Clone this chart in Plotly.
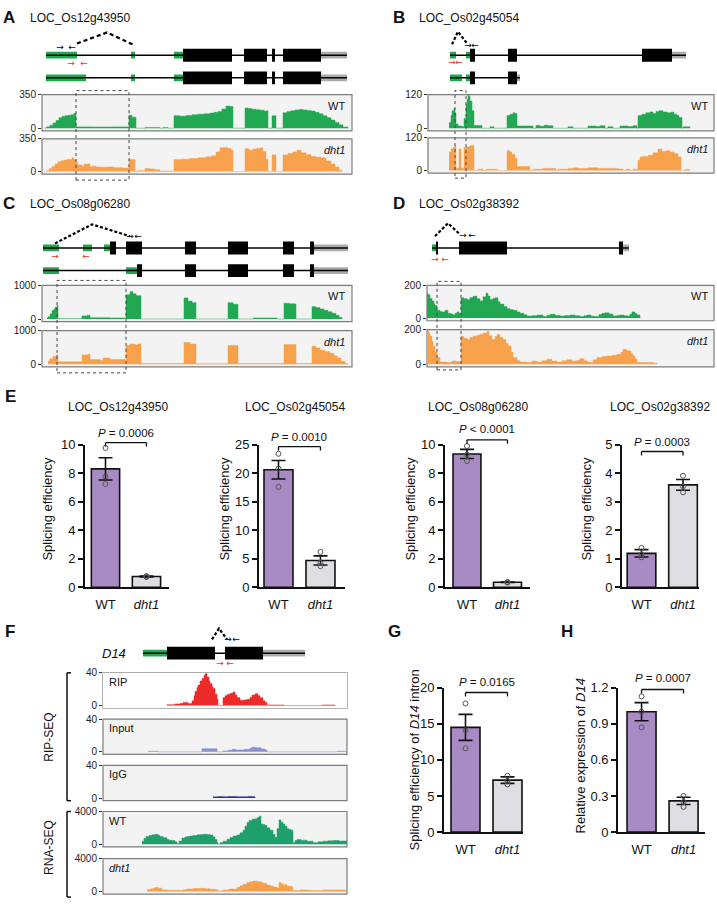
import plotly.graph_objects as go

W, H = 717, 909
FONT = "Liberation Sans, Arial, Helvetica, sans-serif"

# ---------------- gene models (track units; g=5'UTR, k=CDS, s=3'UTR) ----------------
A_ISO = [
    [(4, 35, 'g'), (89, 93, 'g'), (132, 141, 'g'), (141, 190, 'k'), (202, 225, 'k'), (230, 233, 'k'), (241, 279, 'k'), (279, 305, 's')],
    [(4, 44, 'g'), (89, 93, 'g'), (132, 141, 'g'), (141, 190, 'k'), (202, 225, 'k'), (230, 233, 'k'), (241, 279, 'k'), (279, 305, 's')],
]
B_ISO = [
    [(22, 28, 'g'), (38, 42, 'g'), (42, 47, 'k'), (80, 89, 'k'), (214, 244, 'k'), (244, 258, 's')],
    [(22, 34, 'g'), (38, 42, 'g'), (42, 47, 'k'), (80, 89, 'k'), (89, 92, 's')],
]
C_ISO = [
    [(1, 17, 'g'), (41, 50, 'g'), (62, 68, 'g'), (68, 74, 'k'), (84, 100, 'k'), (143, 154, 'k'), (186, 206, 'k'), (241, 252, 'k'), (268, 272, 'k'), (272, 306, 's')],
    [(1, 17, 'g'), (84, 95, 'g'), (95, 100, 'k'), (143, 154, 'k'), (186, 206, 'k'), (241, 252, 'k'), (268, 272, 'k'), (272, 306, 's')],
]
D_ISO = [[(5, 9, 'g'), (9, 11, 'k'), (32, 80, 'k'), (192, 196, 'k'), (196, 202, 's')]]
D14_ISO = [[(40, 64, 'g'), (64, 112, 'k'), (122, 160, 'k'), (160, 202, 's')]]

# splice arcs (position, height) and primer positions
A_ARC = [(35, 0.52), (65, 1.0), (93, 0.43)]
B_ARC = [(24, 0.48), (30, 1.04), (39, 0.52)]
C_ARC = [(13, 0.2), (50, 1.04), (88, 0.52)]
D_ARC = [(8, 0.52), (21, 1.09), (33, 0.6)]
F_ARC = [(109, 0.61), (116, 1.09), (124, 0.61)]
A_PRIM = ([18, 30], 0.35, [29, 42], -0.39)
B_PRIM = ([40, 47], 0.43, [24, 31], -0.35)
C_PRIM = ([88, 96], 0.48, [13, 44], -0.39)
D_PRIM = ([36, 45], 0.52, [8, 18], -0.52)
F_PRIM = ([125, 133], 0.57, [117, 127], -0.48)

# highlighted intron regions
A_HL = (34, 87)
B_HL = (27, 38)
C_HL = (15, 84)
D_HL = (10, 34)

# ---------------- coverage (position, reads) ----------------
A_WT = [(3, 5), (5, 15), (8, 30), (11, 55), (14, 80), (17, 110), (20, 125), (23, 130), (26, 135), (29, 140), (32, 155), (34, 14), (50, 12), (70, 14), (87, 135), (90, 115), (94, 0), (103, 8), (118, 0), (121, 7), (126, 0), (132, 130), (138, 125), (144, 132), (150, 140), (156, 146), (162, 150), (168, 158), (172, 165), (176, 175), (180, 200), (184, 230), (188, 225), (191, 0), (203, 210), (206, 205), (210, 198), (214, 192), (218, 188), (222, 180), (226, 0), (230, 130), (234, 0), (241, 160), (245, 175), (249, 182), (253, 190), (257, 195), (261, 190), (265, 185), (269, 178), (273, 165), (277, 150), (281, 130), (285, 110), (289, 85), (293, 60), (297, 35), (301, 12), (306, 0)]
A_DHT1 = [(4, 10), (7, 30), (10, 55), (13, 80), (16, 105), (19, 115), (22, 123), (25, 128), (28, 130), (30, 146), (32, 125), (34, 95), (36, 70), (40, 58), (42, 81), (48, 49), (50, 58), (54, 50), (58, 45), (62, 47), (66, 49), (72, 42), (80, 39), (87, 130), (93, 0), (95, 10), (103, 32), (108, 28), (113, 20), (118, 6), (132, 130), (140, 132), (148, 140), (156, 148), (164, 158), (170, 168), (174, 210), (178, 255), (182, 258), (186, 245), (189, 230), (191, 0), (203, 243), (207, 228), (211, 240), (215, 250), (218, 253), (221, 215), (224, 130), (226, 0), (230, 178), (234, 0), (241, 178), (246, 195), (251, 210), (255, 227), (259, 200), (264, 180), (269, 162), (274, 155), (279, 146), (284, 113), (289, 80), (293, 50), (297, 15), (300, 0)]
B_WT = [(21, 20), (23, 45), (24, 62), (26, 70), (27, 55), (28, 15), (30, 8), (34, 5), (36, 35), (38, 85), (39, 102), (40, 120), (41, 114), (42, 97), (44, 62), (46, 10), (54, 0), (62, 5), (66, 0), (79, 45), (82, 50), (85, 55), (87, 52), (89, 8), (105, 0), (108, 10), (112, 7), (116, 11), (120, 9), (125, 0), (140, 5), (145, 0), (160, 8), (168, 6), (172, 9), (177, 0), (180, 5), (185, 0), (192, 8), (200, 6), (205, 9), (209, 0), (210, 45), (214, 50), (218, 55), (222, 58), (225, 52), (228, 60), (231, 62), (235, 58), (239, 55), (243, 57), (246, 50), (249, 45), (251, 38), (254, 0), (255, 5), (262, 0)]
B_DHT1 = [(21, 68), (23, 80), (25, 85), (27, 91), (28, 9), (31, 79), (33, 9), (36, 85), (39, 87), (42, 91), (46, 0), (50, 5), (55, 0), (58, 5), (69, 0), (79, 73), (82, 68), (84, 60), (87, 44), (89, 15), (102, 0), (105, 5), (115, 8), (125, 8), (128, 0), (130, 5), (140, 8), (145, 10), (150, 8), (160, 10), (170, 8), (180, 8), (190, 6), (195, 0), (198, 5), (202, 0), (205, 5), (210, 38), (212, 50), (215, 52), (220, 56), (225, 65), (230, 79), (234, 70), (238, 73), (242, 68), (246, 62), (250, 50), (253, 0), (257, 4), (262, 0)]
C_WT = [(5, 30), (6, 65), (8, 150), (10, 252), (12, 300), (13, 346), (15, 411), (16, 10), (38, 10), (40, 93), (45, 112), (48, 37), (68, 30), (80, 30), (84, 720), (88, 813), (91, 748), (94, 700), (96, 692), (99, 0), (142, 626), (146, 533), (150, 486), (154, 0), (186, 486), (191, 440), (196, 0), (211, 30), (235, 0), (242, 468), (247, 450), (253, 440), (254, 0), (270, 365), (274, 340), (278, 300), (282, 260), (286, 215), (290, 170), (294, 112), (297, 50), (300, 0)]
C_DHT1 = [(6, 100), (8, 167), (11, 230), (14, 278), (16, 74), (38, 74), (40, 278), (46, 296), (48, 139), (58, 111), (61, 185), (68, 139), (83, 74), (84, 556), (88, 602), (93, 574), (96, 602), (99, 20), (142, 648), (148, 602), (154, 15), (186, 556), (196, 20), (242, 583), (254, 20), (270, 537), (274, 480), (278, 417), (283, 370), (288, 324), (292, 250), (295, 185), (299, 90), (303, 19), (306, 0)]
D_WT = [(0, 152), (1, 143), (3, 120), (5, 105), (7, 85), (8, 76), (10, 48), (13, 40), (15, 38), (18, 48), (21, 29), (24, 25), (26, 19), (28, 30), (30, 38), (32, 29), (34, 124), (37, 118), (40, 114), (43, 125), (46, 133), (50, 118), (53, 105), (56, 130), (59, 152), (61, 135), (63, 114), (66, 120), (68, 124), (71, 100), (73, 86), (77, 70), (80, 57), (83, 52), (86, 48), (90, 38), (93, 29), (97, 20), (100, 13), (105, 15), (110, 19), (116, 10), (120, 18), (123, 23), (128, 17), (133, 13), (138, 16), (143, 19), (148, 14), (153, 10), (157, 15), (160, 19), (164, 12), (168, 10), (172, 22), (175, 29), (178, 32), (182, 25), (186, 13), (190, 16), (193, 19), (197, 15), (200, 13), (203, 25), (205, 38), (208, 28), (210, 19), (213, 0)]
D_DHT1 = [(0, 190), (2, 175), (3, 162), (5, 130), (6, 105), (8, 70), (10, 38), (13, 13), (16, 12), (20, 10), (24, 15), (26, 19), (29, 15), (33, 13), (34, 162), (37, 150), (40, 143), (43, 155), (46, 162), (50, 168), (53, 171), (56, 180), (60, 190), (62, 165), (65, 143), (68, 160), (70, 171), (73, 155), (76, 143), (79, 120), (81, 105), (84, 70), (86, 38), (90, 20), (93, 13), (100, 10), (105, 18), (110, 12), (115, 20), (120, 29), (125, 18), (130, 12), (135, 20), (140, 25), (145, 18), (150, 22), (153, 32), (157, 20), (160, 12), (163, 10), (166, 25), (170, 38), (175, 45), (180, 48), (185, 52), (190, 57), (194, 70), (196, 86), (199, 80), (201, 76), (204, 60), (206, 48), (208, 30), (210, 10), (226, 6), (230, 0)]
F_RIP = [(64, 1.2), (72, 2), (77, 2.7), (80, 3.9), (85, 2.7), (89, 5.8), (91, 12), (92, 17.5), (94, 22), (95, 25), (97, 30), (99, 33), (101, 37), (102, 38.8), (104, 35), (106, 30), (107, 27), (109, 23), (110, 21), (112, 14), (114, 7.8), (115, 0), (120, 9.7), (122, 12), (124, 13.6), (127, 15), (130, 16.7), (132, 13), (134, 9.7), (137, 6.6), (141, 7), (144, 7.8), (147, 10), (149, 12.8), (152, 14.4), (155, 12), (157, 9.7), (160, 6), (162, 3.9), (164, 0.8), (181, 0), (219, 0.8), (232, 0)]
F_INPUT = [(45, 0.75), (55, 0), (99, 3.8), (114, 0), (120, 1.1), (125, 2), (129, 3), (133, 2.3), (137, 2.3), (141, 3), (144, 3), (147, 4.5), (149, 5.7), (152, 5.2), (154, 4.9), (158, 3.5), (162, 2.3), (164, 0), (234, 0.8), (244, 0)]
F_IGG = [(110, 1.5), (115, 1.8), (120, 1.5), (125, 2), (130, 2), (134, 1.6), (140, 1.7), (145, 2), (150, 1.6), (152, 0)]
F_WT = [(39, 381), (41, 700), (43, 950), (46, 1067), (49, 1150), (52, 1219), (55, 1100), (57, 952), (60, 800), (64, 571), (66, 500), (69, 457), (72, 300), (74, 76), (76, 400), (79, 762), (82, 900), (84, 952), (87, 1000), (90, 1067), (94, 1150), (97, 1180), (100, 1219), (104, 1180), (107, 1143), (110, 900), (112, 571), (114, 200), (115, 0), (117, 200), (120, 381), (124, 600), (127, 838), (130, 1000), (134, 1143), (137, 1400), (140, 1714), (142, 2200), (144, 2667), (146, 2900), (149, 3048), (151, 3100), (154, 3238), (156, 3429), (158, 2476), (160, 2400), (162, 2286), (164, 2000), (167, 1714), (170, 1200), (172, 838), (174, 1905), (176, 2972), (178, 2700), (180, 2476), (182, 2200), (184, 1905), (186, 1800), (188, 1714), (190, 190), (192, 450), (194, 571), (198, 500), (204, 381), (210, 190), (215, 300), (220, 381), (225, 420), (230, 457), (236, 400), (244, 381)]
F_DHT1 = [(44, 200), (47, 310), (50, 420), (52, 504), (55, 400), (59, 194), (65, 150), (77, 116), (80, 200), (84, 310), (90, 350), (97, 388), (102, 330), (107, 272), (112, 200), (115, 0), (117, 100), (120, 194), (126, 300), (134, 504), (137, 700), (140, 892), (144, 1086), (147, 1200), (150, 1280), (153, 1250), (155, 1203), (158, 1100), (160, 970), (164, 800), (167, 698), (170, 550), (174, 427), (176, 1086), (178, 950), (180, 815), (184, 650), (189, 504), (190, 116), (197, 194), (205, 150), (210, 116), (220, 194), (232, 194), (244, 194)]

# ---------------- bar chart data ----------------
E_GENES = ['LOC_Os12g43950', 'LOC_Os02g45054', 'LOC_Os08g06280', 'LOC_Os02g38392']
E_WT_MEAN = [8.3, 20.6, 9.35, 1.19]
E_WT_SEM = [0.78, 1.63, 0.32, 0.13]
E_DHT1_MEAN = [0.75, 4.7, 0.35, 3.59]
E_DHT1_SEM = [0.03, 0.8, 0.02, 0.19]
E_WT_PTS = [[9.77, 7.75, 7.24], [23.4, 20.8, 17.6], [9.9, 9.3, 8.85], [1.38, 1.15, 1.05]]
E_DHT1_PTS = [[0.78, 0.75, 0.72], [6.2, 4.3, 3.7], [0.37, 0.35, 0.33], [3.91, 3.54, 3.33]]
E_P = ['= 0.0006', '= 0.0010', '< 0.0001', '= 0.0003']
E_YMAX = [10, 25, 10, 5]
E_DTICK = [2, 5, 2, 1]

G_WT_MEAN, G_WT_SEM, G_WT_PTS = 14.5, 1.8, [17.8, 14.1, 11.6]
G_DHT1_MEAN, G_DHT1_SEM, G_DHT1_PTS = 7.2, 0.45, [7.8, 7.1, 6.6]
G_P = '= 0.0165'
H_WT_MEAN, H_WT_SEM, H_WT_PTS = 1.0, 0.075, [1.127, 1.0, 0.87]
H_DHT1_MEAN, H_DHT1_SEM, H_DHT1_PTS = 0.26, 0.03, [0.30, 0.25, 0.21]
H_P = '= 0.0007'
H_TICKS = ['0', '0.3', '0.6', '0.9', '1.2']

# ---------------- styles ----------------
GREEN = '#22a852'
ORANGE = '#f7a14d'
UTR5 = '#23a650'
UTR3 = '#ababab'
PURPLE = '#a88bc4'
GREYBAR = '#dedde2'
TRACK_BG = '#f4f3f4'
TRACK_LINE = '#7d7d7d'
EXON_C = {'g': UTR5, 'k': '#000000', 's': UTR3}
EXON_H = {'g': 0.3, 'k': 0.57, 's': 0.3}

fig = go.Figure()
L = {}
shapes = []
annos = []
n_ax = [0]


def add_axes(x0, x1, y0, y1, xr, yr, xkw=None, ykw=None):
    n_ax[0] += 1
    n = n_ax[0]
    s = '' if n == 1 else str(n)
    xa = dict(domain=[x0 / W, x1 / W], range=xr, anchor='y' + s, showgrid=False,
              zeroline=False, visible=False, fixedrange=True)
    ya = dict(domain=[1 - y1 / H, 1 - y0 / H], range=yr, anchor='x' + s, showgrid=False,
              zeroline=False, visible=False, fixedrange=True)
    if xkw:
        xa.update(xkw)
    if ykw:
        ya.update(ykw)
    L['xaxis' + s] = xa
    L['yaxis' + s] = ya
    return 'x' + s, 'y' + s


def ann(x, y, text, size=12, xanchor='center', yanchor='middle', angle=0, color='#111'):
    annos.append(dict(xref='paper', yref='paper', x=x / W, y=1 - y / H, text=text,
                      showarrow=False, xanchor=xanchor, yanchor=yanchor, textangle=angle,
                      font=dict(size=size, color=color, family=FONT)))


def gene_model(bx0, bx1, row_y, isoforms, arc, prim, dash):
    w = bx1 - bx0
    xa, ya = add_axes(bx0, bx1, row_y - 35, row_y + 35, [0, w], [-1.52, 1.52])
    for i, iso in enumerate(isoforms):
        row = -i
        lo = min(e[0] for e in iso)
        hi = max(e[1] for e in iso)
        fig.add_trace(go.Scatter(x=[lo, hi], y=[row, row], mode='lines',
                                 line=dict(color='#000', width=1.5), xaxis=xa, yaxis=ya,
                                 hoverinfo='skip', showlegend=False))
        for kind in 'gsk':
            ex = [e for e in iso if e[2] == kind]
            if not ex:
                continue
            fig.add_trace(go.Bar(orientation='h', base=[e[0] for e in ex],
                                 x=[e[1] - e[0] for e in ex], y=[row] * len(ex),
                                 width=[EXON_H[kind]] * len(ex),
                                 marker=dict(color=EXON_C[kind], line=dict(width=0)),
                                 xaxis=xa, yaxis=ya, showlegend=False, hoverinfo='skip'))
    fig.add_trace(go.Scatter(x=[p[0] for p in arc], y=[p[1] for p in arc], mode='lines',
                             line=dict(color='#000', width=2.2, dash=dash), xaxis=xa, yaxis=ya,
                             hoverinfo='skip', showlegend=False))
    bpos, by, rpos, ry = prim
    fig.add_trace(go.Scatter(x=bpos, y=[by] * 2, mode='text', text=['→', '←'],
                             textfont=dict(size=9, color='#000', family='DejaVu Sans'),
                             xaxis=xa, yaxis=ya, hoverinfo='skip', showlegend=False, cliponaxis=False))
    fig.add_trace(go.Scatter(x=rpos, y=[ry] * 2, mode='text', text=['→', '←'],
                             textfont=dict(size=9, color='#e8312b', family='DejaVu Sans'),
                             xaxis=xa, yaxis=ya, hoverinfo='skip', showlegend=False, cliponaxis=False))
    return xa, ya


def track(bx0, bx1, ty0, ty1, data, color, ymax, ticktxt, label, label_left=False):
    w = bx1 - bx0
    xa, ya = add_axes(bx0, bx1, ty0, ty1, [0, w], [-0.08 * ymax, ymax],
                      ykw=dict(visible=True, showline=False, ticks='outside', ticklen=3,
                               tickwidth=1, tickcolor='#333', tickvals=[0, ymax],
                               ticktext=['0', ticktxt],
                               tickfont=dict(size=10, color='#222', family=FONT)))
    shapes.append(dict(type='rect', xref=xa + ' domain', yref=ya + ' domain', x0=0, x1=1,
                       y0=0, y1=1, fillcolor=TRACK_BG, line=dict(color=TRACK_LINE, width=1.2),
                       layer='below'))
    fig.add_trace(go.Scatter(x=[p[0] for p in data], y=[p[1] for p in data], mode='lines',
                             line=dict(shape='hv', width=0.5, color=color), fill='tozeroy',
                             fillcolor=color, xaxis=xa, yaxis=ya, hoverinfo='skip',
                             showlegend=False))
    if label_left:
        annos.append(dict(xref=xa + ' domain', yref=ya + ' domain', x=0.015, y=1, yshift=-1,
                          xanchor='left', yanchor='top', text=label, showarrow=False,
                          font=dict(size=11, color='#111', family=FONT)))
    else:
        annos.append(dict(xref=xa + ' domain', yref=ya + ' domain', x=0.985, y=1, yshift=-3,
                          xanchor='right', yanchor='top', text=label, showarrow=False,
                          font=dict(size=11, color='#111', family=FONT)))
    return xa, ya


def cov_panel(letter, lx, title, tx, ty, bx0, bx1, row_y, iso, arc, prim, dash,
              tracks_y, wt, dht1, ymax, tick, hl, hl_y):
    ann(lx, ty, '<b>%s</b>' % letter, size=17, xanchor='left')
    ann(tx, ty, title, size=12, xanchor='left')
    xa, ya = gene_model(bx0, bx1, row_y, iso, arc, prim, dash)
    track(bx0, bx1, tracks_y[0][0], tracks_y[0][1], wt, GREEN, ymax, tick, 'WT')
    track(bx0, bx1, tracks_y[1][0], tracks_y[1][1], dht1, ORANGE, ymax, tick, '<i>dht1</i>')
    w = bx1 - bx0
    shapes.append(dict(type='rect', xref=xa + ' domain', yref='paper', x0=hl[0] / w, x1=hl[1] / w,
                       y0=1 - hl_y[1] / H, y1=1 - hl_y[0] / H,
                       line=dict(color='#444', width=1, dash='dot'), fillcolor='rgba(0,0,0,0)',
                       layer='above'))


cov_panel('A', 1, 'LOC_Os12g43950', 28, 11, 42, 352, 49, A_ISO, A_ARC, A_PRIM, '4px,3px',
          [(89, 126), (134, 170)], A_WT, A_DHT1, 350, '350', A_HL, (85, 176))
cov_panel('B', 391, 'LOC_Os02g45054', 417, 11, 428, 714, 49, B_ISO, B_ARC, B_PRIM, '3px,2px',
          [(89, 126), (133, 169)], B_WT, B_DHT1, 120, '120', B_HL, (85, 174))
cov_panel('C', 1, 'LOC_Os08g06280', 28, 200, 42, 352, 245, C_ISO, C_ARC, C_PRIM, '3px,2px',
          [(283, 320), (329, 366)], C_WT, C_DHT1, 1000, '1000', C_HL, (278, 372))
cov_panel('D', 391, 'LOC_Os02g38392', 417, 200, 427, 714, 245, D_ISO, D_ARC, D_PRIM, '3px,2px',
          [(283, 319), (328, 366)], D_WT, D_DHT1, 200, '200', D_HL, (279, 369))


# ---------------- bar charts ----------------
def bar_panel(box, xr, ymax, tickvals, ticktext, wt, wt_sem, wt_pts, mu, mu_sem, mu_pts,
              ptxt, br_y, p_y):
    x0, x1, y0, y1 = box
    xa, ya = add_axes(x0, x1, y0, y1, xr, [0, ymax],
                      xkw=dict(visible=True, showline=True, linecolor='#111', linewidth=1.8,
                               tickvals=[0, 1], ticktext=['WT', '<i>dht1</i>'], ticks='',
                               tickfont=dict(size=13, color='#111', family=FONT),
                               ticklabelstandoff=4),
                      ykw=dict(visible=True, showline=True, linecolor='#111', linewidth=1.8,
                               ticks='outside', ticklen=5, tickwidth=1.8, tickcolor='#111',
                               tickvals=tickvals, ticktext=ticktext,
                               tickfont=dict(size=13, color='#111', family=FONT)))
    fig.add_trace(go.Bar(x=[0, 1], y=[wt, mu], width=0.69,
                         marker=dict(color=[PURPLE, GREYBAR], line=dict(color='#111', width=1.6)),
                         error_y=dict(type='data', array=[wt_sem, mu_sem], color='#111',
                                      thickness=1.6, width=7),
                         xaxis=xa, yaxis=ya, showlegend=False, cliponaxis=False,
                         hoverinfo='skip'))
    fig.add_trace(go.Scatter(x=[0] * len(wt_pts) + [1] * len(mu_pts), y=wt_pts + mu_pts,
                             mode='markers',
                             marker=dict(symbol='circle-open', size=5, color='#555',
                                         line=dict(width=1)),
                             xaxis=xa, yaxis=ya, showlegend=False, cliponaxis=False,
                             hoverinfo='skip'))
    r0, r1 = xr
    fx0 = (0 - r0) / (r1 - r0)
    fx1 = (1 - r0) / (r1 - r0)
    fxm = (0.5 - r0) / (r1 - r0)
    fy = br_y / ymax
    dy = 4.0 / (y1 - y0)
    for (a, b, c, d) in [(fx0, fy, fx1, fy), (fx0, fy, fx0, fy - dy), (fx1, fy, fx1, fy - dy)]:
        shapes.append(dict(type='line', xref=xa + ' domain', yref=ya + ' domain', x0=a, y0=b,
                           x1=c, y1=d, line=dict(color='#111', width=1.3)))
    annos.append(dict(xref=xa + ' domain', yref=ya + ' domain', x=fxm, y=p_y / ymax,
                      text='<i>P</i> ' + ptxt, showarrow=False,
                      xanchor='center', yanchor='middle',
                      font=dict(size=11.5, color='#111', family=FONT)))
    return xa, ya


ann(3, 396, '<b>E</b>', size=17, xanchor='left')
E_BOX = [(85, 169), (259, 345), (445, 530), (622, 699)]
E_XR = [[-0.5, 1.55], [-0.464, 1.584], [-0.543, 1.556], [-0.47, 1.385]]
E_TITLE_X = [118, 295, 478, 660]
E_YLAB_X = [48, 225, 411, 587]
E_BR = [10.14, 24.66, 10.34, 4.76]
E_PY = [10.83, 26.38, 11.1, 5.1]
for i in range(4):
    tv = [k * E_DTICK[i] for k in range(int(round(E_YMAX[i] / E_DTICK[i])) + 1)]
    bar_panel((E_BOX[i][0], E_BOX[i][1], 445, 590), E_XR[i], E_YMAX[i], tv,
              [str(v) for v in tv], E_WT_MEAN[i], E_WT_SEM[i], E_WT_PTS[i],
              E_DHT1_MEAN[i], E_DHT1_SEM[i], E_DHT1_PTS[i], E_P[i], E_BR[i], E_PY[i])
    ann(E_TITLE_X[i], 407, E_GENES[i], size=12)
    ann(E_YLAB_X[i], 510, 'Splicing efficiency', size=13, angle=-90)

# G and H
ann(386, 635, '<b>G</b>', size=17, xanchor='left')
ann(559, 635, '<b>H</b>', size=17, xanchor='left')
bar_panel((444, 523, 692, 839), [-0.512, 1.369], 20, [0, 5, 10, 15, 20],
          ['0', '5', '10', '15', '20'], G_WT_MEAN, G_WT_SEM, G_WT_PTS,
          G_DHT1_MEAN, G_DHT1_SEM, G_DHT1_PTS, G_P, 19.32, 20.8)
ann(414, 765, 'Splicing efficiency of <i>D14</i> intron', size=13, angle=-90)
bar_panel((618, 705, 692, 839), [-0.56, 1.51], 1.2, [0, 0.3, 0.6, 0.9, 1.2], H_TICKS,
          H_WT_MEAN, H_WT_SEM, H_WT_PTS, H_DHT1_MEAN, H_DHT1_SEM, H_DHT1_PTS, H_P, 1.184, 1.28)
ann(580, 762, 'Relative expression of <i>D14</i>', size=13, angle=-90)

# ---------------- F ----------------
ann(3, 635, '<b>F</b>', size=17, xanchor='left')
ann(128, 657, '<i>D14</i>', size=13, xanchor='right')
gene_model(103, 347, 657, D14_ISO, F_ARC, F_PRIM, '3px,2px')
F_TRACKS = [
    ((677, 713), F_RIP, '#ec2a2a', 40, '40', 'RIP'),
    ((724, 760), F_INPUT, '#8a8fd2', 40, '40', 'Input'),
    ((771, 807), F_IGG, '#2b3a8f', 40, '40', 'IgG'),
    ((818, 854), F_WT, '#1e9f6c', 4000, '4000', 'WT'),
    ((866, 902), F_DHT1, '#f5a04b', 4000, '4000', '<i>dht1</i>'),
]
for (ty, data, col, ymax, tick, lab) in F_TRACKS:
    track(103, 347, ty[0], ty[1], data, col, ymax, tick, lab, label_left=True)

for (top, bot) in [(677, 807), (818, 905)]:
    for (a, b, c, d) in [(67, top, 67, bot), (67, top, 71, top), (67, bot, 71, bot)]:
        shapes.append(dict(type='line', xref='paper', yref='paper', x0=a / W, y0=1 - b / H,
                           x1=c / W, y1=1 - d / H, line=dict(color='#111', width=1.5)))
ann(49, 743, 'RIP-SEQ', size=12, angle=-90)
ann(49, 855, 'RNA-SEQ', size=12, angle=-90)

fig.update_layout(width=W, height=H, margin=dict(l=0, r=0, t=0, b=0),
                  paper_bgcolor='white', plot_bgcolor='white', barmode='overlay',
                  showlegend=False, font=dict(family=FONT, color='#111'),
                  shapes=shapes, annotations=annos, **L)
fig.write_html('out.html', config={'displayModeBar': False},
               post_script="document.body.style.margin='0px';document.body.style.overflow='hidden';")
